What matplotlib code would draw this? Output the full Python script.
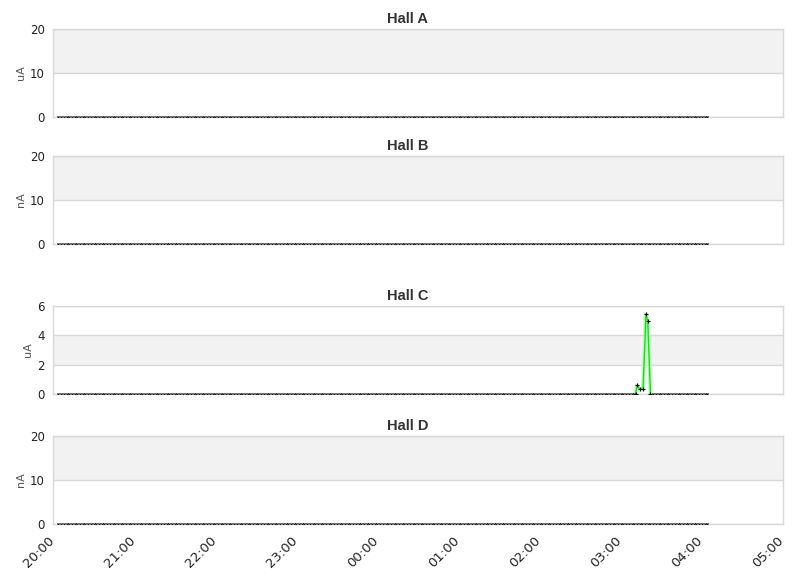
import numpy as np
import pandas as pd
import matplotlib
matplotlib.use('Agg')
import matplotlib.pyplot as plt
import matplotlib.dates as mdates
import matplotlib.patheffects as pe
from matplotlib.transforms import ScaledTranslation

# Hall titles, units, y ticks
halls = ['Hall A', 'Hall B', 'Hall C', 'Hall D']
units = ['uA', 'nA', 'uA', 'nA']
yticks = [[0, 10, 20], [0, 10, 20], [0, 2, 4, 6], [0, 10, 20]]

# baseline readings (all zero), one every 2 minutes
base_start = '2020-01-01 20:04'
base_end = '2020-01-02 04:04'
base_times = pd.date_range(base_start, base_end, freq='2min')

# Hall C beam excursion
spike_times = pd.to_datetime(['2020-01-02 03:11:00', '2020-01-02 03:12:00', '2020-01-02 03:14:00',
                              '2020-01-02 03:16:30', '2020-01-02 03:18:40', '2020-01-02 03:20:00',
                              '2020-01-02 03:22:00'])
spike_vals = [0, 0.6, 0.35, 0.35, 5.45, 4.95, 0]

x_lo = pd.Timestamp('2020-01-01 20:00')
x_hi = pd.Timestamp('2020-01-02 05:00')

bottoms = [0.7976, 0.5779, 0.3183, 0.0934]
fig = plt.figure(figsize=(8.11, 5.78), dpi=100)

for i, name in enumerate(halls):
    ax = fig.add_axes([0.0654, bottoms[i], 0.900, 0.1522])
    yt = yticks[i]
    # alternating bands
    for j in range(len(yt) - 1):
        if j % 2 == 1:
            ax.axhspan(yt[j], yt[j + 1], color='#f2f2f2', lw=0, zorder=0)
    for y in yt:
        ax.axhline(y, color='#d8d8d8', lw=1, zorder=1)

    vals = np.zeros(len(base_times))
    if name == 'Hall C':
        keep = (base_times < spike_times[0]) | (base_times > spike_times[-1])
        ax.plot(spike_times, spike_vals, color='#00ee00', lw=1.0, zorder=3,
                path_effects=[pe.Stroke(linewidth=2.6, foreground='#c2f7c2'), pe.Normal()])
        ax.plot(spike_times, spike_vals, ls='none', marker='+', ms=3, mew=0.8,
                color='black', zorder=4)
        ax.plot(base_times[keep], vals[keep], ls='none', marker='x', ms=1.6, mew=0.7,
                color='#111111', zorder=4)
    else:
        ax.plot(base_times, vals, ls='none', marker='x', ms=1.6, mew=0.7,
                color='#111111', zorder=4)

    ax.set_xlim(x_lo, x_hi)
    ax.set_ylim(yt[0], yt[-1])
    ax.set_yticks(yt)
    ax.tick_params(axis='y', length=0, pad=6, labelsize=8.5, labelcolor='#222222')
    ax.tick_params(axis='x', length=0)
    for s in ax.spines.values():
        s.set_color('#d8d8d8')
        s.set_linewidth(1)
    ax.set_ylabel(units[i], fontsize=8, color='#555555', labelpad=3)
    ax.set_title(name, x=0.486, fontsize=10.5, fontweight='bold', color='#333333',
                 family='Liberation Sans', pad=4)
    ax.xaxis.set_major_locator(mdates.HourLocator())
    ax.xaxis.set_major_formatter(mdates.DateFormatter('%H:%M'))
    if i < 3:
        ax.set_xticklabels([])
    else:
        ax.tick_params(axis='x', pad=7)
        shift = ScaledTranslation(-4 / 72, 0, fig.dpi_scale_trans)
        for lab in ax.get_xticklabels():
            lab.set_rotation(45)
            lab.set_ha('right')
            lab.set_rotation_mode('anchor')
            lab.set_fontsize(9.5)
            lab.set_color('#222222')
            lab.set_transform(lab.get_transform() + shift)

fig.savefig('out.png', dpi=100)
